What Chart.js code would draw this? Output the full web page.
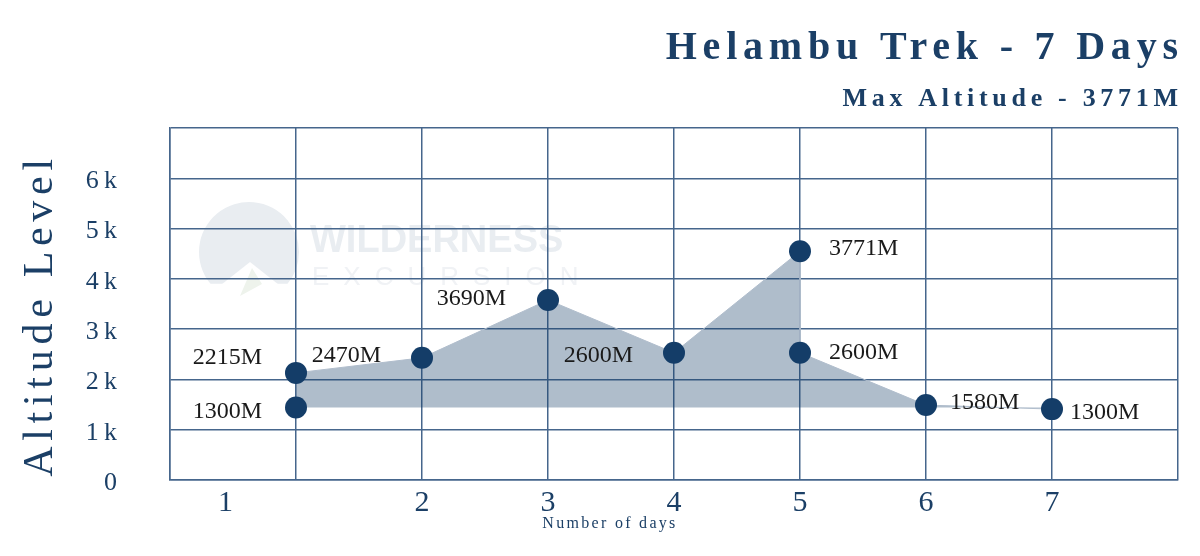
<!DOCTYPE html>
<html>
<head>
<meta charset="utf-8">
<script src="https://cdn.jsdelivr.net/npm/chart.js@4.4.1/dist/chart.umd.min.js"></script>
<style>
  html, body { margin: 0; padding: 0; background: #fff; }
  #wrap { width: 1200px; height: 556px; }
</style>
</head>
<body>
<div id="wrap"><canvas id="grafico1"></canvas></div>
<script>
// values (plotted heights, not the printed labels)
var dias = [1, 1, 2, 3, 4, 5, 5, 6, 7];
var altitudes = [1440, 2130, 2430, 3580, 2530, 4550, 2530, 1490, 1410];
var rotulos = ['1300M', '2215M', '2470M', '3690M', '2600M', '3771M', '2600M', '1580M', '1300M'];

// x tick labels and where they sit on the day scale
var diasTicks = [0.44, 2, 3, 4, 5, 6, 7];
var diasRotulos = ['1', '2', '3', '4', '5', '6', '7'];
var altTicks = [0, 1000, 2000, 3000, 4000, 5000, 6000];
var altRotulos = ['0', '1\u2009k', '2\u2009k', '3\u2009k', '4\u2009k', '5\u2009k', '6\u2009k'];

// label placement next to each point [dx, dy] in px
var rotuloDesloc = [[-34, 4], [-34, -15], [-41, -2], [-42, -1], [-41, 3], [29, -2], [29, 0], [24, -2], [18, 4]];

var azul = '#1b3f66';
var grade = '#46668c';
var serif = "'Liberation Serif', 'DejaVu Serif', serif";

var pontos = dias.map(function (d, i) { return { x: d, y: altitudes[i] }; });
var perfil = pontos.slice(1);

var textos = {
  id: 'textos',
  beforeDraw: function (chart) {
    // faint watermark behind the grid
    var ctx = chart.ctx;
    ctx.save();
    ctx.fillStyle = '#e9edf1';
    ctx.beginPath();
    ctx.arc(249, 252, 50, Math.PI * 0.78, Math.PI * 2.22);
    ctx.closePath();
    ctx.fill();
    ctx.fillStyle = '#ffffff';
    ctx.beginPath();
    ctx.moveTo(212, 292); ctx.lineTo(250, 262); ctx.lineTo(288, 292);
    ctx.closePath();
    ctx.fill();
    ctx.fillStyle = '#eef3ec';
    ctx.beginPath();
    ctx.moveTo(240, 296); ctx.lineTo(252, 268); ctx.lineTo(262, 284);
    ctx.closePath();
    ctx.fill();
    ctx.fillStyle = '#e9edf1';
    ctx.font = "bold 38px 'Liberation Sans', sans-serif";
    ctx.textBaseline = 'alphabetic';
    ctx.textAlign = 'left';
    ctx.fillText('WILDERNESS', 310, 252);
    ctx.fillStyle = '#f0f2f5';
    ctx.font = "26px 'Liberation Sans', sans-serif";
    ctx.letterSpacing = '14px';
    ctx.fillText('EXCURSION', 312, 285);
    ctx.restore();
  },
  afterDatasetsDraw: function (chart) {
    var ctx = chart.ctx;
    var meta = chart.getDatasetMeta(1);
    ctx.save();
    ctx.font = '24px ' + serif;
    ctx.fillStyle = '#1a1a1a';
    ctx.textBaseline = 'middle';
    meta.data.forEach(function (p, i) {
      var d = rotuloDesloc[i];
      ctx.textAlign = d[0] < 0 ? 'right' : 'left';
      ctx.fillText(rotulos[i], p.x + d[0], p.y + d[1]);
    });
    ctx.restore();
  },
  afterDraw: function (chart) {
    var ctx = chart.ctx;
    ctx.save();
    ctx.fillStyle = azul;
    ctx.textBaseline = 'alphabetic';
    ctx.textAlign = 'right';
    ctx.letterSpacing = '5.8px';
    ctx.font = 'bold 40px ' + serif;
    ctx.fillText('Helambu Trek - 7 Days', 1178 + 5.8, 59);
    ctx.letterSpacing = '4.7px';
    ctx.font = 'bold 26px ' + serif;
    ctx.fillText('Max Altitude - 3771M', 1178 + 4.7, 106);

    ctx.letterSpacing = '2.3px';
    ctx.font = '16px ' + serif;
    ctx.textAlign = 'center';
    ctx.fillText('Number of days', 610, 528);

    ctx.translate(52, 315);
    ctx.rotate(-Math.PI / 2);
    ctx.letterSpacing = '5.7px';
    ctx.font = '42px ' + serif;
    ctx.fillText('Altitude Level', 0, 0);
    ctx.restore();
  }
};

var ctx = document.getElementById('grafico1').getContext('2d');
var chart = new Chart(ctx, {
  type: 'scatter',
  data: {
    datasets: [{
      // shaded altitude profile
      data: perfil,
      order: 2,
      showLine: true,
      fill: { value: altitudes[0] },
      backgroundColor: 'rgba(20, 61, 104, 0.34)',
      borderColor: '#b0bdcc',
      borderWidth: 1,
      pointRadius: 0,
      tension: 0
    }, {
      data: pontos,
      order: 1,
      showLine: false,
      pointRadius: 11,
      pointHoverRadius: 11,
      backgroundColor: '#143d68',
      borderColor: '#143d68',
      borderWidth: 0
    }]
  },
  options: {
    responsive: true,
    maintainAspectRatio: false,
    animation: false,
    layout: { padding: { top: 128, right: 22, bottom: 0, left: 0 }, autoPadding: false },
    plugins: { legend: { display: false }, tooltip: { enabled: false } },
    scales: {
      x: {
        type: 'linear',
        min: 0,
        max: 8,
        afterFit: function (s) { s.height = 76; },
        afterBuildTicks: function (s) {
          var t = [0, 1, 8].concat(diasTicks);
          t.sort(function (a, b) { return a - b; });
          s.ticks = t.map(function (v) { return { value: v }; });
        },
        grid: {
          drawTicks: false,
          lineWidth: 1.5,
          color: function (c) {
            return c.tick && diasTicks.indexOf(c.tick.value) >= 0 && c.tick.value % 1 !== 0 ? 'rgba(0,0,0,0)' : grade;
          }
        },
        border: { color: grade, width: 1.5 },
        ticks: {
          autoSkip: false,
          maxRotation: 0,
          padding: 5,
          color: azul,
          font: { family: serif, size: 30 },
          callback: function (v) {
            var i = diasTicks.indexOf(v);
            return i >= 0 ? diasRotulos[i] : '';
          }
        }
      },
      y: {
        min: 0,
        max: 7000,
        afterFit: function (s) { s.width = 170; },
        afterBuildTicks: function (s) {
          s.ticks = altTicks.concat([7000]).map(function (v) { return { value: v }; });
        },
        grid: { drawTicks: false, lineWidth: 1.5, color: grade },
        border: { color: grade, width: 1.5 },
        ticks: {
          padding: 53,
          labelOffset: 3,
          color: azul,
          font: { family: serif, size: 26 },
          callback: function (v) {
            var i = altTicks.indexOf(v);
            return i >= 0 ? altRotulos[i] : '';
          }
        }
      }
    }
  },
  plugins: [textos]
});
</script>
</body>
</html>
